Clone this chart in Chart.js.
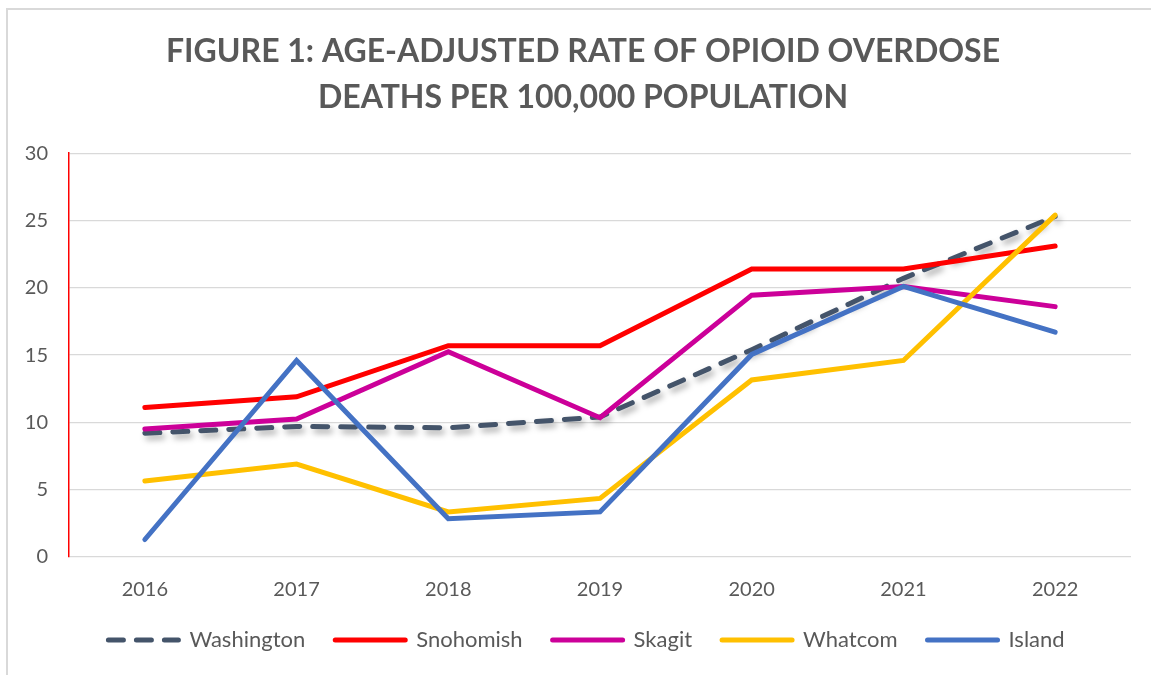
<!DOCTYPE html>
<html>
<head>
<meta charset="utf-8">
<script src="https://cdn.jsdelivr.net/npm/chart.js@4.4.1/dist/chart.umd.min.js"></script>
<style>
  html, body { margin: 0; padding: 0; background: #fff; }
  body { width: 1151px; height: 675px; position: relative; overflow: hidden; }
  #frame { position: absolute; left: 6px; top: 8px; width: 1200px; height: 700px; border: 2px solid #d9d9d9; }
  #chart { position: absolute; left: 0; top: 0; }
</style>
</head>
<body>
<div id="frame"></div>
<canvas id="chart" width="1151" height="675"></canvas>
<script>
const years = ["2016", "2017", "2018", "2019", "2020", "2021", "2022"]
const washington = [9.2, 9.7, 9.6, 10.4, 15.4, 20.7, 25.3]
const snohomish = [11.1, 11.9, 15.7, 15.7, 21.4, 21.4, 23.1]
const skagit = [9.5, 10.25, 15.25, 10.35, 19.45, 20.1, 18.6]
const whatcom = [5.65, 6.9, 3.35, 4.35, 13.15, 14.6, 25.4]
const island = [1.3, 14.6, 2.85, 3.35, 15.05, 20.1, 16.7]

const FONT = "Lato, 'Open Sans', sans-serif"
const GREY = "#595959"

// soft drop shadow under the state line, like the Excel original
const shadowPlugin = {
  id: "shadow",
  beforeDatasetDraw(chart, args) {
    if (args.index !== 0) return
    const ctx = chart.ctx
    ctx.save()
    ctx.shadowColor = "rgba(0,0,0,0.35)"
    ctx.shadowBlur = 6
    ctx.shadowOffsetX = 3
    ctx.shadowOffsetY = 4
  },
  afterDatasetDraw(chart, args) {
    if (args.index !== 0) return
    chart.ctx.restore()
  }
}

// title and legend sit a bit right of the plot centre in the original
const nudgePlugin = {
  id: "nudge",
  afterLayout(chart) {
    chart.titleBlock.left += 7.5
    chart.titleBlock.right += 7.5
    chart.legend.left += 11
    chart.legend.right += 11
  }
}

function line(label, data, color, order, extra) {
  return Object.assign({
    label, data, order,
    borderColor: color,
    backgroundColor: color,
    borderWidth: 5,
    pointRadius: 0,
    borderCapStyle: "round",
    tension: 0,
    fill: false
  }, extra || {})
}

new Chart(document.getElementById("chart"), {
  type: "line",
  data: {
    labels: years,
    datasets: [
      line("Washington", washington, "#44546A", 0, { borderDash: [15, 13] }),
      line("Snohomish", snohomish, "#FF0000", -1),
      line("Skagit", skagit, "#CC0099", -2),
      line("Whatcom", whatcom, "#FFC000", -3),
      line("Island", island, "#4472C4", -4)
    ]
  },
  plugins: [shadowPlugin, nudgePlugin],
  options: {
    responsive: false,
    animation: false,
    devicePixelRatio: 1,
    layout: { padding: { left: 20, right: 20, top: 0, bottom: 14 } },
    scales: {
      x: {
        offset: true,
        grid: { display: false, drawTicks: false },
        border: { display: false },
        ticks: { color: GREY, font: { family: FONT, size: 20 }, padding: 21 },
        afterFit: s => { s.height = 42 }
      },
      y: {
        min: 0,
        max: 30,
        ticks: { stepSize: 5, color: GREY, font: { family: FONT, size: 20 }, padding: 21 },
        grid: { color: "#D9D9D9", lineWidth: 1.3, drawTicks: false },
        border: { color: "#FF0000", width: 1.5 },
        afterFit: s => { s.width = 49 }
      }
    },
    plugins: {
      title: {
        display: true,
        text: ["FIGURE 1: AGE-ADJUSTED RATE OF OPIOID OVERDOSE", "DEATHS PER 100,000 POPULATION"],
        color: GREY,
        font: { family: FONT, size: 32, weight: "bold", lineHeight: 1.44 },
        padding: { top: 29, bottom: 32 }
      },
      legend: {
        position: "bottom",
        reverse: true,
        labels: {
          color: GREY,
          font: { family: FONT, size: 22 },
          usePointStyle: true,
          pointStyle: "line",
          pointStyleWidth: 70,
          padding: 30,
          generateLabels(chart) {
            const items = Chart.defaults.plugins.legend.labels.generateLabels(chart)
            items.forEach(it => {
              const ds = chart.data.datasets[it.datasetIndex]
              it.lineDash = ds.borderDash || []
              it.lineWidth = 5
              it.lineCap = "round"
              it.strokeStyle = ds.borderColor
            })
            return items
          }
        }
      },
      tooltip: { enabled: false }
    }
  }
})
</script>
</body>
</html>
